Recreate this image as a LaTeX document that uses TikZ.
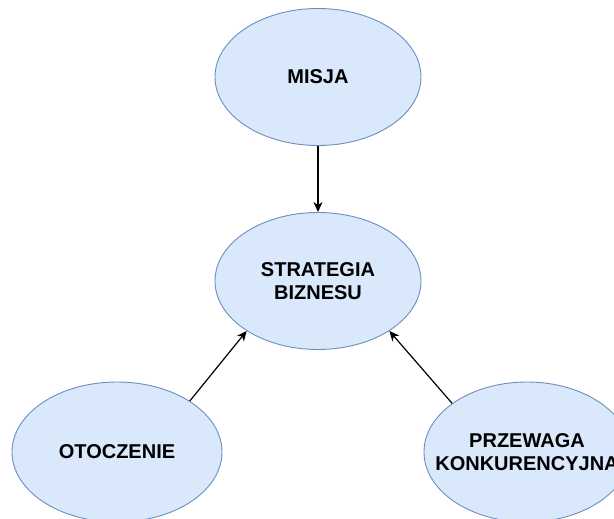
\documentclass[tikz,border=0pt]{standalone}
\usepackage{fontspec}
\setmainfont{Liberation Sans}
\usetikzlibrary{shapes.geometric,arrows.meta}
\definecolor{bubblefill}{HTML}{DAE8FC}
\definecolor{bubbleline}{HTML}{6C8EBF}
\begin{document}
\begin{tikzpicture}[x=1pt,y=-1pt,
  bubble/.style={ellipse, draw=bubbleline, fill=bubblefill, line width=0.9pt,
    minimum width=206pt, minimum height=137pt, inner sep=0pt, align=center,
    font=\fontsize{20}{23}\selectfont\bfseries},
  link/.style={draw=black, line width=1.2pt, -{Stealth[length=10pt,width=9pt,inset=3pt]}}]
  \useasboundingbox (0,0) rectangle (614,519);
  \clip (0,0) rectangle (614,519);
  % the four ellipses
  \node[bubble] (misja) at (318,77) {MISJA};
  \node[bubble] (strategia) at (318,281) {STRATEGIA\\BIZNESU};
  \node[bubble, minimum width=210pt, minimum height=140pt] (otoczenie) at (117,452) {OTOCZENIE};
  \node[bubble, minimum width=206pt, minimum height=140pt, inner xsep=-25pt] (przewaga) at (527,452) {PRZEWAGA\\KONKURENCYJNA};
  % connectors
  \draw[link] (misja.south) -- (strategia.north);
  \draw[link] (otoczenie.35) -- (strategia.215);
  \draw[link] (przewaga.147) -- (strategia.325);
\end{tikzpicture}
\end{document}
